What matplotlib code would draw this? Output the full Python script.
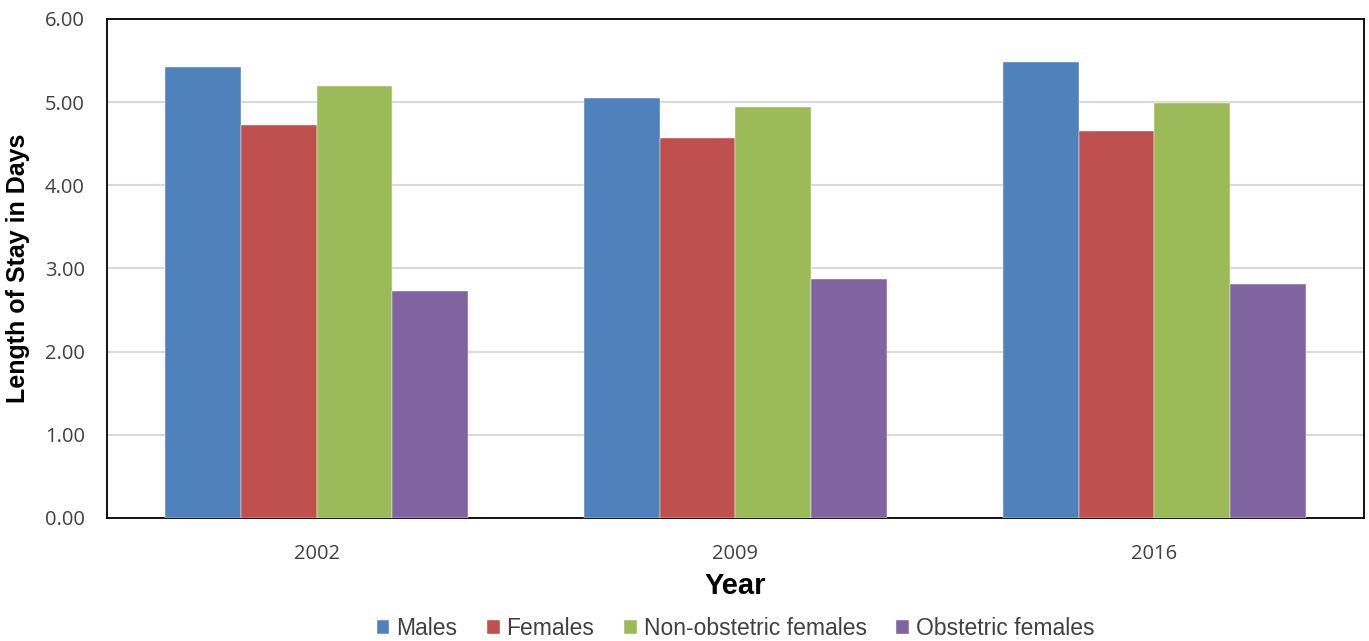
import numpy as np
import matplotlib
matplotlib.use('Agg')
import matplotlib.pyplot as plt
from matplotlib.ticker import FormatStrFormatter

years = ['2002', '2009', '2016']
series = ['Males', 'Females', 'Non-obstetric females', 'Obstetric females']
males = [5.42, 5.05, 5.48]
females = [4.73, 4.57, 4.65]
non_obst = [5.19, 4.94, 4.99]
obst = [2.73, 2.87, 2.81]
colors = ['#4F81BD', '#C0504D', '#9BBB59', '#8064A2']

fig = plt.figure(figsize=(13.69, 6.41), dpi=100)
ax = fig.add_axes([0.0782, 0.1919, 0.9181, 0.7785])

x = np.arange(len(years))
w = 0.181
for i, (name, vals) in enumerate(zip(series, [males, females, non_obst, obst])):
    ax.bar(x + (i - 1.5) * w, vals, w, color=colors[i], label=name,
           edgecolor='white', linewidth=0.3, zorder=3)

ax.set_xlim(-0.5, 2.5)
ax.set_ylim(0, 6)
ax.set_yticks(np.arange(0, 6.01, 1))
ax.yaxis.set_major_formatter(FormatStrFormatter('%.2f'))
ax.set_xticks(x)
ax.set_xticklabels(years)
ax.grid(axis='y', color='#D9D9D9', linewidth=1.5, zorder=0)
ax.tick_params(length=0, labelsize=14.5, labelcolor='#404040')
ax.tick_params(axis='y', pad=16)
ax.tick_params(axis='x', pad=19)
for lab in ax.get_xticklabels() + ax.get_yticklabels():
    lab.set_family('Open Sans')
for s in ax.spines.values():
    s.set_color('black')
    s.set_linewidth(1.3)

ax.set_ylabel('Length of Stay in Days', fontsize=18, fontweight='bold',
              family='Liberation Sans')
ax.yaxis.set_label_coords(-0.061, 0.5)
ax.set_xlabel('Year', fontsize=21, fontweight='bold', family='Liberation Sans')
ax.xaxis.set_label_coords(0.5, -0.108)

ax.legend(loc='center', bbox_to_anchor=(0.5, -0.222), ncol=4,
          frameon=False, handlelength=0.55, handleheight=0.55, handletextpad=0.3,
          columnspacing=1.3, prop={'family': 'Liberation Sans', 'size': 16.5},
          labelcolor='#404040')

fig.savefig('out.png', dpi=100)
